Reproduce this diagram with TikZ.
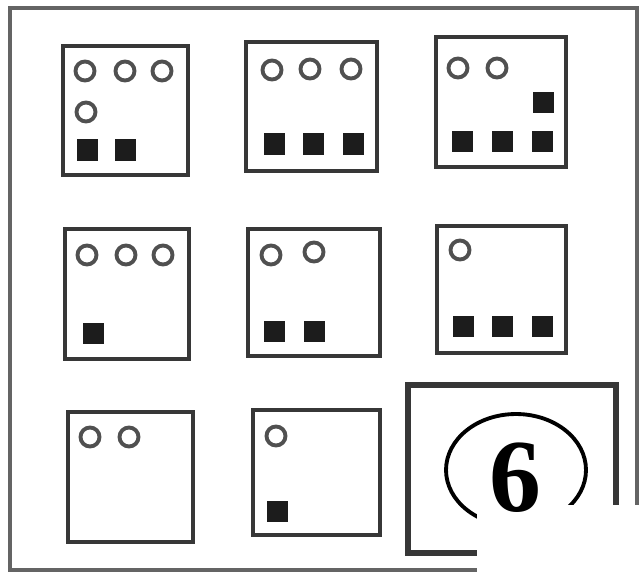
\documentclass[tikz,border=0pt]{standalone}
\usepackage{fontspec}
\setmainfont{Liberation Serif}
\definecolor{framegray}{RGB}{100,100,100}
\definecolor{boxgray}{RGB}{55,55,55}
\definecolor{ringgray}{RGB}{80,80,80}
\definecolor{dotblack}{RGB}{28,28,28}
\usetikzlibrary{shapes.geometric}

\begin{document}
\begin{tikzpicture}[x=0.02cm, y=-0.02cm,
    panel/.style={draw=boxgray, line width=2.2pt},
    ring/.style={draw=ringgray, line width=2.2pt},
    blob/.style={fill=dotblack}]
    \useasboundingbox (0,0) rectangle (641,574);
    \fill[white] (0,0) rectangle (641,574);
    \draw[framegray, line width=2.8pt] (10,8) rectangle (637,570);
    % the eight small panels
    \foreach \xa/\ya/\xb/\yb in {63/46/188/175, 246/42/377/171, 436/37/566/167,
        65/229/189/359, 248/229/380/356, 437/226/566/353,
        68/412/193/542, 253/410/380/535} {
        \draw[panel] (\xa,\ya) rectangle (\xb,\yb);
    }
    % open rings
    \foreach \x/\y in {85/71, 125/71, 162/71, 86/112,
        272/70, 310/69, 351/69,
        458/68, 497/68,
        87/255, 126/255, 163/255,
        271/255, 314/252,
        460/250,
        90/437, 129/437,
        276/436} {
        \draw[ring] (\x,\y) circle[radius=9.5];
    }
    % filled squares
    \foreach \x/\y in {87/150, 125/150,
        274/144, 313/144, 353/144,
        543/103, 462/142, 502/142, 542/142,
        93/333,
        274/331, 314/331,
        463/326, 502/326, 542/326,
        277/511} {
        \fill[blob] (\x-10.5,\y-10.5) rectangle (\x+10.5,\y+10.5);
    }
    % the empty panel
    \draw[boxgray, line width=3.2pt] (408,385) rectangle (616,553);
    \node[draw, ellipse, line width=2.2pt, minimum width=2.8cm, minimum height=2.24cm, inner sep=0pt] (ring6) at (516,470) {};
    \fill[white] (477,505) rectangle (641,574);
    \node[font=\fontsize{59}{59}\selectfont\bfseries, inner sep=0pt] (six) at (515,478) {6};
\end{tikzpicture}
\end{document}
